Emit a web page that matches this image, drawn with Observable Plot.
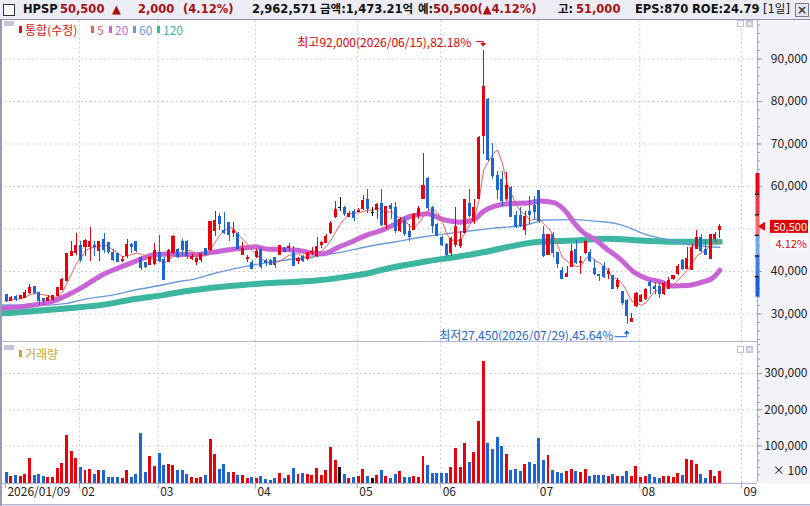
<!DOCTYPE html>
<html>
<head>
<meta charset="utf-8">
<script src="https://cdn.jsdelivr.net/npm/d3@7"></script>
<script src="https://cdn.jsdelivr.net/npm/@observablehq/plot@0.6"></script>
<style>
html,body{margin:0;padding:0;background:#fff;}
#wrap{position:relative;width:810px;height:506px;overflow:hidden;background:#f2f2f8;font-family:"Noto Sans CJK KR","Noto Sans",sans-serif;}
#wrap svg{position:absolute;left:0;}
.h{position:absolute;top:1px;line-height:17px;white-space:pre;font-family:"DejaVu Sans","Noto Sans CJK KR",sans-serif;font-weight:bold;font-size:11.5px;color:#111;}
.lg{position:absolute;white-space:pre;font-size:12px;line-height:14px;}
</style>
</head>
<body>
<div id="wrap"></div>
<script>
// ---------------- data ----------------
const OPEN = [
34400,33000,33900,33450,33750,34850,36250,34950,33550,33150,
33200,34150,35650,37700,43700,44350,46050,45750,45850,46000,
44750,47500,46600,44350,44100,42550,43700,46300,46850,43150,
42000,41600,41750,44400,42800,42150,44350,45000,47000,46900,
43050,42250,42750,45250,45100,49500,52800,49550,51350,49150,
48750,43850,42900,42100,43450,45000,42500,42500,43100,43850,
45400,45450,44300,42500,43500,42900,44300,43650,46150,46800,
49000,52750,54850,55000,52900,54050,54050,54800,56900,53750,
54400,55900,51000,55350,54950,49450,51800,49200,49850,53150,
57050,61750,54950,51000,47900,46300,44350,46300,45900,49050,
55950,51800,57050,71800,80400,66450,62550,61600,57050,59650,
53000,53000,49850,53900,55500,58850,48500,43850,48500,44300,
40150,38750,41150,45100,41950,44300,44300,40700,39150,41150,
39400,39000,36250,35100,33150,28200,31800,32900,33500,37400,
36250,36250,34700,35850,38200,39400,42500,40700,40400,45250,
47950,45100,42900,47750,49800];
const HIGH = [
34700,34000,34300,34400,35500,37050,36350,35100,33700,34250,
34400,36250,38450,44350,47000,48900,47100,47500,50450,47000,
46850,48900,46850,45150,44350,43550,47500,46700,47000,43550,
42150,43550,46700,48400,43200,45150,48400,45300,47600,47200,
44050,43300,44300,45400,51650,54000,53600,53850,51500,51500,
49150,46800,43850,42500,45100,45600,42900,42900,43100,46150,
45600,46550,45850,43300,43850,44450,45600,47950,46950,48750,
51850,56550,57350,55250,54200,54600,54750,57800,59250,54950,
55900,59250,55350,56100,56250,52600,52600,51000,53750,55350,
67700,62150,55350,51250,48300,46550,47900,54950,49450,57050,
59400,56900,71650,92000,80800,70050,63550,63550,63350,60050,
54150,54950,54150,57700,57700,58850,50700,48750,49150,44450,
40950,41150,46400,47200,43500,47400,45100,42900,39400,42100,
40700,39150,38350,35250,33350,30200,35100,34700,36000,37800,
37400,37400,37400,38600,39150,41700,42900,45600,46400,49550,
48750,47200,48500,49150,51000];
const LOW = [
32600,32900,32900,33350,33550,34700,34550,31950,31950,33000,
33050,34000,35550,37550,43550,43700,42000,43550,42400,43550,
42300,44350,44100,42400,42000,42000,43150,44350,44500,40250,
40600,41350,41350,42000,37900,42000,43950,42950,43550,42900,
42500,41350,42100,43850,44600,48200,49550,48750,46950,47950,
45100,43650,42100,40700,43050,40550,41150,41350,40700,43850,
44450,44600,41150,41750,42100,42500,43850,43300,45400,46550,
48600,52550,54000,53050,52650,51650,53850,54300,53750,53000,
52200,50650,49850,52200,49050,49200,48300,47100,49700,52200,
56900,54150,49050,48300,45900,43200,43550,45550,45300,48900,
52600,51000,56900,67500,65900,61750,56900,55350,56500,52600,
50000,50250,48450,51000,52050,51400,43200,43650,43300,40700,
38050,38600,40950,41700,39400,44050,42100,39150,37600,38350,
38200,35700,35850,32100,27450,28200,31550,32600,33150,34700,
34700,33650,34450,35700,37800,39150,40150,40550,40150,45100,
44450,43650,42750,46800,47750];
const CLOSE = [
33000,33750,33450,34250,35000,36200,35000,33150,33150,33750,
34300,36050,38100,44200,44600,45900,42800,47100,47000,45850,
46850,45000,44600,42800,42250,42800,46250,45750,44750,40800,
41000,43150,44900,42500,37950,44900,48050,43400,45150,43700,
43450,43050,44050,43850,51650,51850,51250,49000,48500,49550,
45400,45400,43200,40700,44600,40950,42100,41500,41550,46000,
44600,45800,41350,43050,42400,44300,44600,45700,46800,48200,
51100,54550,54850,53450,53600,52650,54350,56700,54700,53750,
55550,51000,55150,54700,49450,52200,48800,48100,53350,54700,
60200,54950,50800,48450,46150,43950,47650,50450,47350,56900,
53000,54950,71400,83400,66300,62550,59250,56500,60050,52800,
50450,50800,52750,53350,53900,51800,43650,48500,44450,41700,
38200,39400,44600,41900,42250,47050,42500,39400,38850,38600,
39900,35850,37800,32600,29600,28850,34700,34300,35650,36650,
35850,34700,37050,37800,38950,41150,40550,42900,45600,47950,
44850,43850,48500,48500,50500];
// volume in units of 100 shares (axis "× 100")
const VOLUME = [
26000,15000,18000,15000,20000,65000,18000,20000,15000,12000,
12000,37000,51000,129000,85000,65000,40000,32000,34000,20000,
32000,32000,12000,12000,12000,9000,32000,12000,20000,135000,
26000,71000,43000,79000,46000,48000,46000,32000,32000,20000,
12000,9000,12000,18000,118000,76000,34000,48000,26000,26000,
18000,18000,9000,12000,9000,15000,6000,4000,9000,23000,
9000,18000,37000,20000,23000,20000,18000,37000,18000,32000,
96000,60000,40000,20000,9000,12000,15000,34000,15000,9000,
18000,32000,15000,9000,20000,29000,12000,12000,15000,12000,
70000,45000,23000,23000,23000,23000,40000,92000,40000,106000,
53000,81000,167000,333000,106000,89000,123000,98000,76000,31000,
34000,29000,48000,53000,48000,120000,59000,73000,31000,26000,
23000,29000,34000,29000,26000,34000,15000,18000,18000,18000,
15000,20000,15000,15000,29000,15000,42000,12000,15000,20000,
12000,9000,15000,15000,12000,23000,18000,62000,59000,48000,
20000,9000,31000,15000,29626];
// moving averages: [bar index, value]
const MA20 = [[-1.3,31300],[0,31400],[5,32000],[10,33000],[12,33900],[16,36100],[21,39400],[25,41200],[29,42900],[32,44000],[35,44100],[38,44000],[41,44000],[44.3,44500],[48,45100],[51.6,45600],[53.7,45800],[56,45300],[59,45200],[62.7,45000],[66.3,44300],[68.5,44200],[71.4,45600],[75,47200],[78,48700],[80,49300],[83.6,51000],[87.2,53000],[90.8,53600],[94.4,52200],[98,51600],[100.9,52200],[103,54200],[105.2,55300],[108.8,56000],[112.4,56100],[115.3,56600],[118.1,56200],[121,53800],[122.5,51500],[124.6,49100],[126.8,47700],[129.7,45200],[132.5,42900],[135.4,39900],[138.3,38300],[141.1,37600],[144,36600],[146.9,36700],[149.8,37400],[152.6,38600],[154,40300]];
const MA60 = [[-1.3,32100],[0,32100],[7,32000],[13,32500],[17,33500],[23,34500],[28,35700],[33,36700],[37.5,37700],[40,38100],[44.3,39400],[51.6,41200],[58.9,42500],[66.3,43500],[72,44500],[78.6,46000],[84,47000],[90.8,48300],[98,49300],[105.2,50200],[112.4,51000],[116,52100],[122.5,52200],[127.5,51800],[131,51400],[134,50500],[137,49100],[139.8,48200],[144,47200],[147,46400],[149.8,46000],[154,45700]];
const MA120 = [[-1.3,30150],[0,30200],[7,30800],[14,31400],[21,32200],[27,33400],[34,34500],[39,35400],[44.3,36200],[51.6,36900],[58.9,37400],[66.3,37800],[73.5,38800],[78.6,39700],[81,40400],[90.8,42400],[98,43600],[103.8,44700],[108.8,45900],[115,47000],[122.5,47300],[129.7,47700],[137,47300],[144,47000],[154,47000]];
// axis ticks / labels
const PRICE_TICKS = [30000,40000,50000,60000,70000,80000,90000];
const VOL_TICKS = [100000,200000,300000];
const MONTH_START = [16,33,54,76,94,115,137,159];
const XTICK_J = [0,16,33,54,76,94,115,137,159];
const XTICK_LABELS = ["2026/01/09","02","03","04","05","06","07","08","09"];
const HI_DATE = "2026/06/15", LO_DATE = "2026/07/29";
const HDR_VOLUME = 2962571, HDR_AMOUNT = "1,473.21", HDR_EPS = "870", HDR_ROE = "24.79";
const LIMIT_PCTS = [30,20,10,0,-10,-20,-30];

// ---------------- styles ----------------
const RED = "#e8000c", BLUE = "#1e64d2", FLAT = "#111";
const C5 = "#e8605c", C20 = "#c864d6", C60 = "#6a9bd8", C120 = "#3cb6a0";
const GRID = {stroke: "#c0c0ce", strokeDasharray: "1.5,3"};
const AX = "#9a9ac4";
const FONT = '"Noto Sans CJK KR","Noto Sans",sans-serif';
const LIMIT_COLORS = ["#e8001c","#ec3a48","#f26a74","#74a6e8","#3f80dc","#1c5fd0"];
const W = 810, MR = 53, X0 = -1.3607, X1 = 162.138;

const N = CLOSE.length;
const fmt = d3.format(",");
const candles = CLOSE.map((c, j) => ({j, open: OPEN[j], high: HIGH[j], low: LOW[j], close: c, vol: VOLUME[j]}));
const dirColor = d => d.close > d.open ? RED : d.close < d.open ? BLUE : FLAT;
const last = CLOSE[N - 1], prev = CLOSE[N - 2], chg = last - prev;
const pctStr = (chg / prev * 100).toFixed(2);
const lim = LIMIT_PCTS.map(p => prev * (1 + p / 100));
const limSegs = LIMIT_COLORS.map((c, i) => ({hi: lim[i], lo: lim[i + 1], c}));
// price labels hidden behind the current-price tag
const PRICE_LABELS = PRICE_TICKS.filter(t => Math.abs(t - last) > 2500);

const wrap = document.getElementById("wrap");
function add(css, text, cls) {
  const e = document.createElement("div");
  e.style.cssText = "position:absolute;" + css;
  if (cls) e.className = cls;
  if (text != null) e.textContent = text;
  wrap.appendChild(e);
  return e;
}

// background pieces
add("left:2px;top:483px;width:808px;height:21px;background:#fff;");
add("left:0;top:504px;width:810px;height:1px;background:#b4b4d4;");
add("left:0;top:505px;width:810px;height:1px;background:#dcdce6;");

// ---------------- price panel ----------------
const price = Plot.plot({
  width: W, height: 321, marginLeft: 0, marginRight: MR, marginTop: 0, marginBottom: 0,
  style: {background: "transparent", fontFamily: FONT, fontSize: "12px", top: "20px", overflow: "visible"},
  x: {domain: [X0, X1], axis: null},
  y: {domain: [23529, 99059], axis: null, label: null},
  color: {type: "identity"},
  marks: [
    Plot.frame({fill: "white", stroke: "none"}),
    Plot.ruleY(PRICE_TICKS, GRID),
    Plot.ruleX(MONTH_START, {x: d => d - 0.3, ...GRID}),
    Plot.line(MA120, {stroke: C120, strokeWidth: 6, curve: "monotone-x"}),
    Plot.line(MA60, {stroke: C60, strokeWidth: 1.4, curve: "monotone-x"}),
    Plot.line(MA20, {stroke: C20, strokeWidth: 5, curve: "monotone-x"}),
    Plot.lineY(candles, Plot.windowY({k: 5, anchor: "end"}, {x: "j", y: "close", stroke: C5, strokeWidth: 1})),
    Plot.ruleX(candles, {x: "j", y1: "low", y2: "high", stroke: dirColor, strokeWidth: 1, shapeRendering: "crispEdges"}),
    Plot.rect(candles, {x1: d => d.j - 0.33, x2: d => d.j + 0.33, y1: "open", y2: "close", fill: dirColor, insetTop: -0.5, insetBottom: -0.5, shapeRendering: "crispEdges"}),
    Plot.ruleX([X1], {stroke: "#a8a8d0"}),
    Plot.axisY({anchor: "right", ticks: d3.range(24000, 99000, 2000), tickSize: 2, tickFormat: () => "", stroke: AX, label: null}),
    Plot.axisY({anchor: "right", ticks: PRICE_TICKS, tickSize: 4, tickFormat: () => "", stroke: AX, label: null}),
    Plot.axisY({anchor: "right", ticks: PRICE_LABELS, tickSize: 0, tickPadding: 50, textAnchor: "end", tickFormat: d3.format(","), fill: "#222", label: null}),
    Plot.ruleX(limSegs, {x: () => X1, y1: "lo", y2: "hi", stroke: "c", strokeWidth: 4}),
    Plot.ruleY(lim.slice(1, -1), {x1: X1 - 0.45, x2: X1 + 0.45, stroke: "#000", strokeWidth: 1.2})
  ]
});
wrap.appendChild(price);

// annotations using the plot's own scales
{
  const sx = price.scale("x"), sy = price.scale("y");
  const g = d3.select(price).append("g").attr("font-family", FONT).attr("font-size", 12);
  const hiJ = d3.maxIndex(HIGH), loJ = d3.minIndex(LOW);
  const hx = sx.apply(hiJ), hy = sy.apply(HIGH[hiJ]);
  const pHi = ((HIGH[hiJ] - last) / last * 100).toFixed(2);
  g.append("text").attr("x", hx - 12).attr("y", hy - 8.4).attr("text-anchor", "end").attr("dominant-baseline", "central")
    .attr("fill", "#e00000").text(`최고${fmt(HIGH[hiJ])}(${HI_DATE}),${pHi}%`);
  g.append("path").attr("d", `M${hx - 7},${hy - 8.4}H${hx}V${hy - 6}`).attr("stroke", "#e00000").attr("fill", "none");
  g.append("path").attr("d", `M${hx - 3},${hy - 7}L${hx + 3},${hy - 7}L${hx},${hy - 3.5}Z`).attr("fill", "#e00000");

  const lx = sx.apply(loJ), ly = sy.apply(LOW[loJ]);
  const pLo = ((last - LOW[loJ]) / last * 100).toFixed(2);
  g.append("text").attr("x", lx - 13.5).attr("y", ly + 9.7).attr("text-anchor", "end").attr("dominant-baseline", "central")
    .attr("fill", BLUE).text(`최저${fmt(LOW[loJ])}(${LO_DATE}),${pLo}%`);
  g.append("path").attr("d", `M${lx - 12},${ly + 12.4}H${lx}V${ly + 9}`).attr("stroke", BLUE).attr("fill", "none");
  g.append("path").attr("d", `M${lx - 3},${ly + 9.5}L${lx + 3},${ly + 9.5}L${lx},${ly + 6}Z`).attr("fill", BLUE);

  // current price tag
  const yc = sy.apply(last), xr = W - MR;
  g.append("path").attr("d", `M${xr + 1},${yc}L${xr + 8},${yc - 4.5}L${xr + 8},${yc + 4.5}Z`).attr("fill", "#e00000");
  g.append("rect").attr("x", xr + 13).attr("y", yc - 6.5).attr("width", 38).attr("height", 13).attr("fill", "#e00000");
  g.append("text").attr("x", xr + 50).attr("y", yc).attr("font-size", 11).attr("text-anchor", "end").attr("dominant-baseline", "central").attr("fill", "#fff").text(fmt(last));
  g.append("rect").attr("x", xr + 13).attr("y", yc + 10).attr("width", 38).attr("height", 12).attr("fill", "#fff");
  g.append("text").attr("x", xr + 50).attr("y", yc + 16.5).attr("font-size", 11).attr("text-anchor", "end").attr("dominant-baseline", "central").attr("fill", "#e00000").text(pctStr + "%");
}

// ---------------- volume panel ----------------
const vol = Plot.plot({
  width: W, height: 165, marginLeft: 0, marginRight: MR, marginTop: 0, marginBottom: 24.5,
  style: {background: "transparent", fontFamily: FONT, fontSize: "12px", top: "341px", overflow: "visible"},
  x: {domain: [X0, X1], axis: null, label: null},
  y: {domain: [0, 388700], axis: null, label: null},
  color: {type: "identity"},
  marks: [
    Plot.frame({fill: "white", stroke: "none"}),
    Plot.ruleY(VOL_TICKS, GRID),
    Plot.ruleX(MONTH_START, {x: d => d - 0.3, ...GRID}),
    Plot.rect(candles, {x1: d => d.j - 0.32, x2: d => d.j + 0.32, y1: 0, y2: "vol", fill: dirColor, insetBottom: -1.5, shapeRendering: "crispEdges"}),
    Plot.ruleY([0], {dy: 1.5, stroke: "#b4b4d4"}),
    Plot.ruleX([X1], {stroke: "#a8a8d0"}),
    Plot.axisY({anchor: "right", ticks: d3.range(20000, 388000, 20000), tickSize: 2, tickFormat: () => "", stroke: AX, label: null}),
    Plot.axisY({anchor: "right", ticks: VOL_TICKS, tickSize: 4, tickPadding: 46, textAnchor: "end", tickFormat: d3.format(","), stroke: AX, fill: "#222", label: null}),
    Plot.text(["× 100"], {frameAnchor: "bottom-right", dx: 50, dy: -7.5, textAnchor: "end", fill: "#222"}),
    Plot.axisX({anchor: "bottom", ticks: XTICK_J.map(d => d - 0.3), tickSize: 7, tickFormat: () => "", stroke: "#a0a0c4", label: null}),
    Plot.text(XTICK_LABELS, {x: (d, i) => XTICK_J[i] - 0.3, text: d => d, frameAnchor: "bottom", dy: 13.5, dx: 2, textAnchor: "start", fill: "#222"})
  ]
});
wrap.appendChild(vol);

// frame lines
add("left:0;top:341px;width:757px;height:1px;background:#b4b4d4;");
add("left:0;top:19px;width:2px;height:487px;background:#9a9ab6;");

// ---------------- header ----------------
add("left:0;top:0;width:810px;height:20px;box-sizing:border-box;background:#ececf4;border-bottom:1px solid #8e8ea6;");
add("left:3px;top:4px;width:10px;height:10px;border:1px solid #333;background:#fff;");
const HRED = "#a50f15";
const HDR = [
  [23, "HPSP", "#111"],
  [60, fmt(last), HRED],
  [112, "▲", HRED],
  [138, fmt(chg), HRED],
  [183, `(${pctStr}%)`, HRED],
  [252, fmt(HDR_VOLUME), "#111"],
  [320, `금액:${HDR_AMOUNT}억`, "#111"],
  [418, "예:", "#111"],
  [433, `${fmt(last)}(▲${pctStr}%)`, HRED],
  [558, "고:", "#111"],
  [576, fmt(HIGH[N - 1]), HRED],
  [635, `EPS:${HDR_EPS}`, "#111"],
  [692, `ROE:${HDR_ROE}`, "#111"]
];
for (const [x, t, c] of HDR) add(`left:${x}px;color:${c};`, t, "h");
add("left:763px;font-weight:normal;color:#111;", "[1일]", "h");
add("left:795px;top:3px;width:12px;height:12px;border:1px solid #7a7a90;background:#e6e6ee;font:bold 12px/12px 'DejaVu Sans',sans-serif;text-align:center;color:#333;", "×");

// ---------------- panel legends ----------------
function legend(top, items) {
  add(`left:4px;top:${top - 3}px;width:10px;height:5px;background:#c4c4dc;`);
  for (const [x, t, c, mc] of items) {
    add(`left:${x - 6}px;top:${top + 2}px;width:3px;height:7px;background:${mc || c};`);
    add(`left:${x}px;top:${top - 1}px;color:${c};`, t, "lg");
  }
}
legend(24, [[25, "통합(수정)", "#e01010"], [97, "5", C5], [115, "20", C20], [139, "60", C60], [163, "120", C120]]);
legend(348, [[25, "거래량", "#bca834"]]);
function icons(top) {
  add(`left:737px;top:${top}px;width:5px;height:5px;border:1px solid #c0c0d4;background:#fff;`);
  add(`left:746px;top:${top}px;width:7px;height:7px;background:#c4c4d8;color:#fff;font:bold 8px/7px sans-serif;text-align:center;`, "×");
}
icons(20);
icons(346);
</script>
</body>
</html>
